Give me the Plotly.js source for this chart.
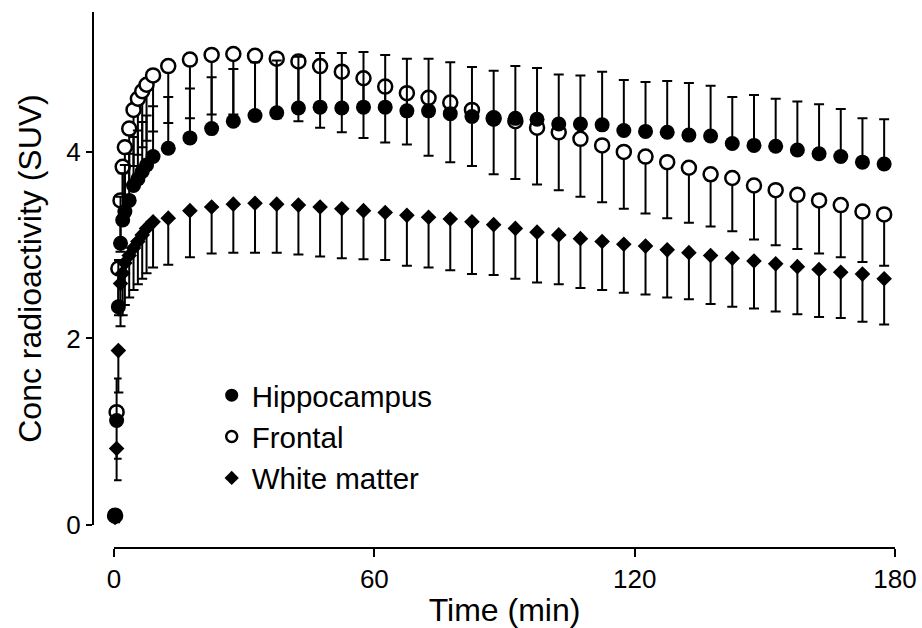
<!DOCTYPE html>
<html>
<head>
<meta charset="utf-8">
<script src="https://cdn.plot.ly/plotly-3.0.1.min.js"></script>
<style>html,body{margin:0;padding:0;background:#fff;} #chart{width:922px;height:628px;}</style>
</head>
<body>
<div id="chart"></div>
<script>
// Time points (min)
var timeMin = [0.25, 0.6, 1.0, 1.5, 2.0, 2.5, 3.5, 4.5, 5.5, 6.5, 7.5, 9,
  12.5, 17.5, 22.5, 27.5, 32.5, 37.5, 42.5, 47.5, 52.5, 57.5, 62.5, 67.5, 72.5, 77.5,
  82.5, 87.5, 92.5, 97.5, 102.5, 107.5, 112.5, 117.5, 122.5, 127.5, 132.5, 137.5,
  142.5, 147.5, 152.5, 157.5, 162.5, 167.5, 172.5, 177.5];

var hippocampus = [0.10, 1.12, 2.34, 3.02, 3.27, 3.36, 3.48, 3.64, 3.71, 3.79, 3.86, 3.95,
  4.04, 4.15, 4.25, 4.33, 4.39, 4.42, 4.47, 4.48, 4.47, 4.48, 4.48, 4.44, 4.44, 4.41,
  4.38, 4.35, 4.36, 4.35, 4.30, 4.30, 4.29, 4.23, 4.22, 4.21, 4.18, 4.17,
  4.09, 4.07, 4.06, 4.02, 3.98, 3.95, 3.89, 3.87];
var hippocampusSD = [0.05, 0.45, 0.50, 0.50, 0.50, 0.50, 0.50, 0.52, 0.52, 0.53, 0.53, 0.54,
  0.55, 0.53, 0.55, 0.56, 0.57, 0.56, 0.55, 0.58, 0.59, 0.59, 0.56, 0.56, 0.56, 0.55,
  0.53, 0.52, 0.56, 0.55, 0.53, 0.52, 0.57, 0.54, 0.53, 0.55, 0.56, 0.54,
  0.50, 0.54, 0.51, 0.52, 0.53, 0.51, 0.47, 0.48];

var frontal = [0.10, 1.21, 2.75, 3.48, 3.84, 4.05, 4.25, 4.45, 4.57, 4.65, 4.72, 4.82,
  4.92, 4.99, 5.04, 5.05, 5.03, 5.00, 4.97, 4.92, 4.86, 4.79, 4.70, 4.63, 4.58, 4.53,
  4.45, 4.36, 4.33, 4.26, 4.21, 4.14, 4.07, 4.00, 3.95, 3.89, 3.83, 3.76,
  3.72, 3.64, 3.59, 3.54, 3.48, 3.43, 3.36, 3.33];
var frontalSD = [0.05, 0.50, 0.50, 0.55, 0.58, 0.60, 0.60, 0.60, 0.60, 0.60, 0.60, 0.60,
  0.61, 0.63, 0.64, 0.65, 0.65, 0.64, 0.64, 0.66, 0.65, 0.64, 0.60, 0.55, 0.62, 0.64,
  0.60, 0.60, 0.62, 0.61, 0.62, 0.62, 0.61, 0.61, 0.61, 0.60, 0.59, 0.56,
  0.57, 0.58, 0.59, 0.58, 0.57, 0.56, 0.54, 0.55];

var whiteMatter = [0.08, 0.82, 1.87, 2.59, 2.70, 2.81, 2.89, 2.97, 3.04, 3.11, 3.18, 3.25,
  3.29, 3.37, 3.41, 3.44, 3.45, 3.44, 3.43, 3.41, 3.39, 3.37, 3.35, 3.32, 3.30, 3.28,
  3.25, 3.22, 3.18, 3.14, 3.11, 3.07, 3.04, 3.01, 2.99, 2.95, 2.92, 2.89,
  2.86, 2.83, 2.80, 2.77, 2.74, 2.71, 2.69, 2.64];
var whiteMatterSD = [0.05, 0.34, 0.45, 0.46, 0.45, 0.45, 0.45, 0.45, 0.46, 0.47, 0.48, 0.49,
  0.50, 0.50, 0.50, 0.52, 0.53, 0.52, 0.53, 0.53, 0.53, 0.52, 0.51, 0.54, 0.54, 0.55,
  0.56, 0.54, 0.54, 0.54, 0.53, 0.53, 0.52, 0.52, 0.52, 0.51, 0.50, 0.52,
  0.52, 0.51, 0.51, 0.51, 0.51, 0.49, 0.51, 0.49];

var seriesNames = ['Hippocampus', 'Frontal', 'White matter'];
var xTicks = [0, 60, 120, 180];
var yTicks = [0, 2, 4];

var FONT = 'Arial, "Liberation Sans", sans-serif';
var zeros = timeMin.map(function(){ return 0; });
function errUp(sd){ return {type:'data', symmetric:false, array:sd, arrayminus:zeros, color:'#000', thickness:2, width:5}; }
function errDown(sd){ return {type:'data', symmetric:false, array:zeros, arrayminus:sd, color:'#000', thickness:2, width:5}; }

var traces = [
  {x: timeMin, y: frontal, type:'scatter', mode:'markers', showlegend:false, cliponaxis:false,
   marker:{symbol:'circle', size:14, color:'#fff', line:{color:'#000', width:2.5}}, error_y: errDown(frontalSD)},
  {x: timeMin, y: hippocampus, type:'scatter', mode:'markers', showlegend:false, cliponaxis:false,
   marker:{symbol:'circle', size:15, color:'#000', line:{width:0}}, error_y: errUp(hippocampusSD)},
  {x: timeMin, y: whiteMatter, type:'scatter', mode:'markers', showlegend:false, cliponaxis:false,
   marker:{symbol:'diamond', size:12, color:'#000', line:{width:0}}, error_y: errDown(whiteMatterSD)},
  // legend entries
  {x:[null], y:[null], type:'scatter', mode:'markers', name: seriesNames[0],
   marker:{symbol:'circle', size:13, color:'#000', line:{width:0}}},
  {x:[null], y:[null], type:'scatter', mode:'markers', name: seriesNames[1],
   marker:{symbol:'circle', size:11, color:'#fff', line:{color:'#000', width:2.5}}},
  {x:[null], y:[null], type:'scatter', mode:'markers', name: seriesNames[2],
   marker:{symbol:'diamond', size:11, color:'#000', line:{width:0}}}
];

var layout = {
  width: 922, height: 628,
  margin: {l: 93, r: 27, t: 12, b: 80},
  paper_bgcolor: '#fff', plot_bgcolor: '#fff',
  font: {family: FONT, color: '#000', size: 26},
  showlegend: true,
  legend: {x: 0.148, y: 0.333, xanchor: 'left', yanchor: 'top', bgcolor: 'rgba(0,0,0,0)',
           font: {family: FONT, size: 29.5, color: '#000'}, tracegroupgap: 0, itemwidth: 30},
  xaxis: {
    domain: [0.0262, 1], range: [0, 180], anchor: 'free', position: 0,
    tickvals: xTicks, ticktext: xTicks.map(String), ticks: 'outside', ticklen: 8, tickwidth: 2, tickcolor: '#000',
    showline: true, linecolor: '#000', linewidth: 2, showgrid: false, zeroline: false,
    tickfont: {family: FONT, size: 26, color: '#000'},
    title: {text: 'Time (min)', font: {family: FONT, size: 32, color: '#000'}, standoff: 6}
  },
  yaxis: {
    domain: [0.0429, 1], range: [0, 5.5], anchor: 'free', position: 0,
    tickvals: yTicks, ticktext: yTicks.map(String), ticks: 'outside', ticklen: 6, tickwidth: 2, tickcolor: '#000',
    showline: true, linecolor: '#000', linewidth: 2, showgrid: false, zeroline: false,
    tickfont: {family: FONT, size: 26, color: '#000'},
    title: {text: 'Conc radioactivity (SUV)', font: {family: FONT, size: 32, color: '#000'}, standoff: 14}
  }
};

Plotly.newPlot('chart', traces, layout, {staticPlot: true});
</script>
</body>
</html>
